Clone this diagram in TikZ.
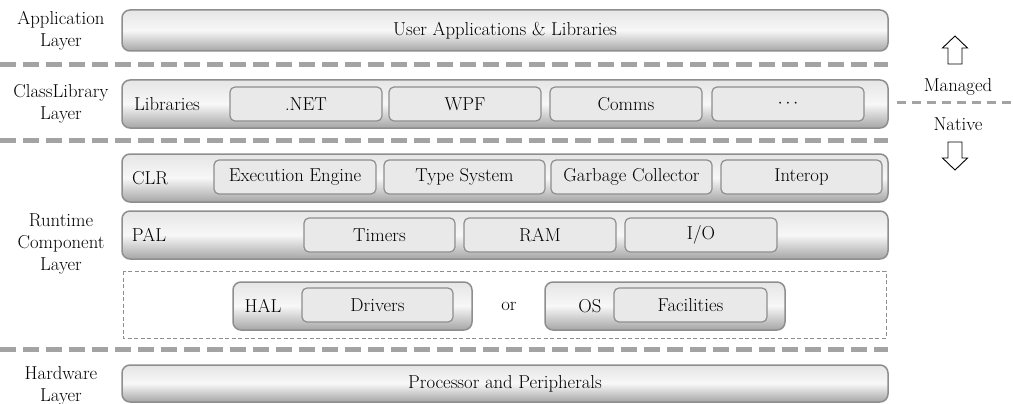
\documentclass[tikz,border=0pt]{standalone}
\usepackage{fontspec}
\usetikzlibrary{shapes.arrows}
\definecolor{sepgray}{HTML}{A3A3A3}
\definecolor{boxedge}{HTML}{8E8E8E}
\definecolor{itemfill}{HTML}{E9E9E9}
\tikzset{%
    bar/.style={draw=boxedge, line width=1.5pt, rounded corners=8pt, top color=black!10, bottom color=black!35, middle color=white!97!black, minimum width=766pt, inner sep=0pt},
    item/.style={draw=boxedge, line width=1.2pt, rounded corners=5pt, fill=itemfill, minimum height=34pt, inner sep=0pt},
    sepline/.style={draw=sepgray, line width=5pt, dash pattern=on 16pt off 7pt},
    layerlabel/.style={align=center},
    flow/.style={draw, line width=0.9pt, fill=white, line join=miter}
}

\begin{document}
\begin{tikzpicture}[x=1pt, y=-1pt, font=\fontsize{18.7}{22}\selectfont]
    \useasboundingbox (0,0) rectangle (1013,404);

    % layer names
    \node[layerlabel] (appname) at (61,31) {Application\\Layer};
    \node[layerlabel] (libname) at (61,104) {ClassLibrary\\Layer};
    \node[layerlabel] (rtname) at (61,244) {Runtime\\Component\\Layer};
    \node[layerlabel] (hwname) at (61,386) {Hardware\\Layer};

    % application
    \node[bar, minimum height=41pt] (app) at (505,30.5) {User Applications \& Libraries};

    \draw[sepline] (0,65) -- (888,65);

    % class library
    \node[bar, minimum height=48pt] (lib) at (505,104) {};
    \node (libtext) at (167,104) {Libraries};
    \node[item, minimum width=152pt] (net) at (306,104) {.NET};
    \node[item, minimum width=152pt] (wpf) at (465,104) {WPF};
    \node[item, minimum width=152pt] (comms) at (626,104) {Comms};
    \node[item, minimum width=152pt] (more) at (788,104) {$\cdots$};

    \draw[sepline] (0,140) -- (888,140);

    % runtime
    \node[bar, minimum height=48pt] (clr) at (505,178) {};
    \node (clrtext) at (150,178) {CLR};
    \node[item, minimum width=162pt] (exec) at (295,177) {Execution Engine};
    \node[item, minimum width=161pt] (types) at (464.5,177) {Type System};
    \node[item, minimum width=161pt] (gc) at (631.5,177) {Garbage Collector};
    \node[item, minimum width=161pt] (interop) at (801.5,177) {Interop};

    \node[bar, minimum height=48pt] (pal) at (505,235) {};
    \node (paltext) at (149,235) {PAL};
    \node[item, minimum width=151pt] (timers) at (379.5,235) {Timers};
    \node[item, minimum width=152pt] (ram) at (540,235) {RAM};
    \node[item, minimum width=152pt] (io) at (701,235) {I/O};

    \draw[boxedge, line width=1pt, dash pattern=on 4pt off 2.5pt] (123,271) rectangle (886,338);
    \node[bar, minimum width=239pt, minimum height=48pt] (hal) at (352.5,306) {};
    \node (haltext) at (263,306) {HAL};
    \node[item, minimum width=151pt] (drivers) at (377.5,305) {Drivers};
    \node (ortext) at (509,306) {or};
    \node[bar, minimum width=240pt, minimum height=48pt] (os) at (665,306) {};
    \node (ostext) at (590,306) {OS};
    \node[item, minimum width=153pt] (facil) at (690.5,305) {Facilities};

    \draw[sepline] (0,349) -- (888,349);

    % hardware
    \node[bar, minimum height=37pt] (hw) at (505,383.5) {Processor and Peripherals};

    % managed / native
    \draw[flow] (955,36) -- (967.5,48) -- (962,48) -- (962,64) -- (948,64) -- (948,48) -- (942.5,48) -- cycle;
    \node (managed) at (958,87) {Managed};
    \draw[sepgray, line width=3pt, dash pattern=on 9pt off 6pt] (897,103) -- (1013,103);
    \node (native) at (958,124) {Native};
    \draw[flow] (955,170) -- (967.5,158) -- (962,158) -- (962,142) -- (948,142) -- (948,158) -- (942.5,158) -- cycle;
\end{tikzpicture}
\end{document}
